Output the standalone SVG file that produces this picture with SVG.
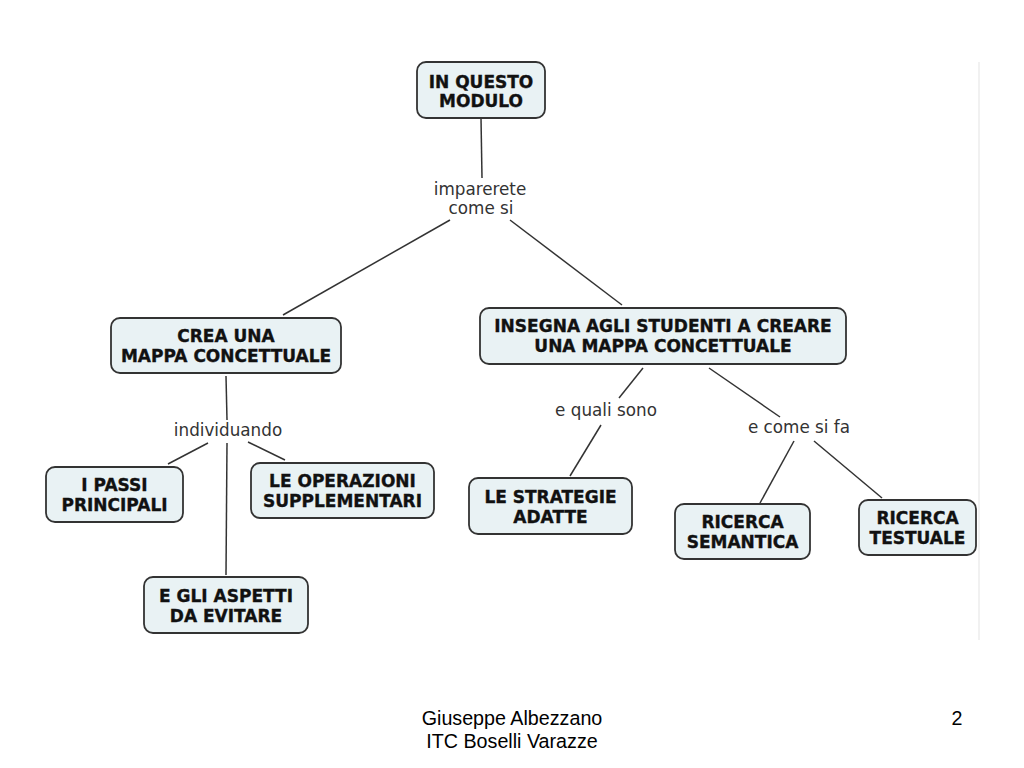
<svg xmlns="http://www.w3.org/2000/svg" width="1024" height="768" viewBox="0 0 1024 768">
<style>
.box{fill:#e9f2f4;stroke:#333;stroke-width:1.8}
.nt{font-family:"DejaVu Sans",Verdana,sans-serif;font-weight:bold;font-size:17px;fill:#111;stroke:#111;stroke-width:0.35;text-anchor:middle}
.lt{font-family:"DejaVu Sans",Verdana,sans-serif;font-size:16.8px;fill:#333;text-anchor:middle}
.ft{font-family:"Liberation Sans",Arial,sans-serif;font-size:19.7px;fill:#000;text-anchor:middle}
.cn line{stroke:#333;stroke-width:1.5}
</style>
<rect width="1024" height="768" fill="#fff"/>
<line x1="979" y1="62" x2="979" y2="640" stroke="#f1f1f1" stroke-width="2"/>
<g class="cn" id="connectors">
<line x1="481" y1="118" x2="482" y2="178"/>
<line x1="450" y1="220" x2="283" y2="315"/>
<line x1="510" y1="220" x2="622" y2="305"/>
<line x1="226" y1="376" x2="227" y2="420"/>
<line x1="208" y1="443" x2="168" y2="464"/>
<line x1="248" y1="442" x2="285" y2="460"/>
<line x1="227" y1="443" x2="226" y2="575"/>
<line x1="643" y1="368" x2="619" y2="398"/>
<line x1="601" y1="425" x2="570" y2="476"/>
<line x1="709" y1="368" x2="780" y2="417"/>
<line x1="794" y1="441" x2="760" y2="503"/>
<line x1="814" y1="441" x2="882" y2="498"/>
</g>
<g id="labels">
<text class="lt" x="480" y="195">imparerete</text>
<text class="lt" x="481" y="214">come si</text>
<text class="lt" x="228" y="436">individuando</text>
<text class="lt" x="606" y="416">e quali sono</text>
<text class="lt" x="799" y="433">e come si fa</text>
</g>
<g id="n1"><rect class="box" x="417" y="62" width="128" height="56" rx="9"/>
<text class="nt" x="481" y="88">IN QUESTO</text><text class="nt" x="481" y="107">MODULO</text></g>
<g id="n2"><rect class="box" x="111" y="318" width="230" height="55" rx="9"/>
<text class="nt" x="226" y="342">CREA UNA</text><text class="nt" x="226" y="361.5">MAPPA CONCETTUALE</text></g>
<g id="n3"><rect class="box" x="480" y="308" width="366" height="56" rx="9"/>
<text class="nt" x="663" y="332">INSEGNA AGLI STUDENTI A CREARE</text><text class="nt" x="663" y="352">UNA MAPPA CONCETTUALE</text></g>
<g id="n4"><rect class="box" x="46" y="467" width="137" height="55" rx="9"/>
<text class="nt" x="114.5" y="491">I PASSI</text><text class="nt" x="114.5" y="511">PRINCIPALI</text></g>
<g id="n5"><rect class="box" x="251" y="463" width="183" height="55" rx="9"/>
<text class="nt" x="342.5" y="487">LE OPERAZIONI</text><text class="nt" x="342.5" y="507">SUPPLEMENTARI</text></g>
<g id="n6"><rect class="box" x="144" y="577" width="164" height="56" rx="9"/>
<text class="nt" x="226" y="602">E GLI ASPETTI</text><text class="nt" x="226" y="622">DA EVITARE</text></g>
<g id="n7"><rect class="box" x="469" y="478" width="163" height="56" rx="9"/>
<text class="nt" x="550.5" y="502.5">LE STRATEGIE</text><text class="nt" x="550.5" y="522.5">ADATTE</text></g>
<g id="n8"><rect class="box" x="675" y="504" width="135" height="55" rx="9"/>
<text class="nt" x="742.5" y="528">RICERCA</text><text class="nt" x="742.5" y="548">SEMANTICA</text></g>
<g id="n9"><rect class="box" x="859" y="500" width="117" height="55" rx="9"/>
<text class="nt" x="917.5" y="524">RICERCA</text><text class="nt" x="917.5" y="544">TESTUALE</text></g>
<g id="footer">
<text class="ft" x="512" y="725">Giuseppe Albezzano</text>
<text class="ft" x="512" y="748">ITC Boselli Varazze</text>
<text class="ft" x="957" y="725">2</text>
</g>
</svg>
